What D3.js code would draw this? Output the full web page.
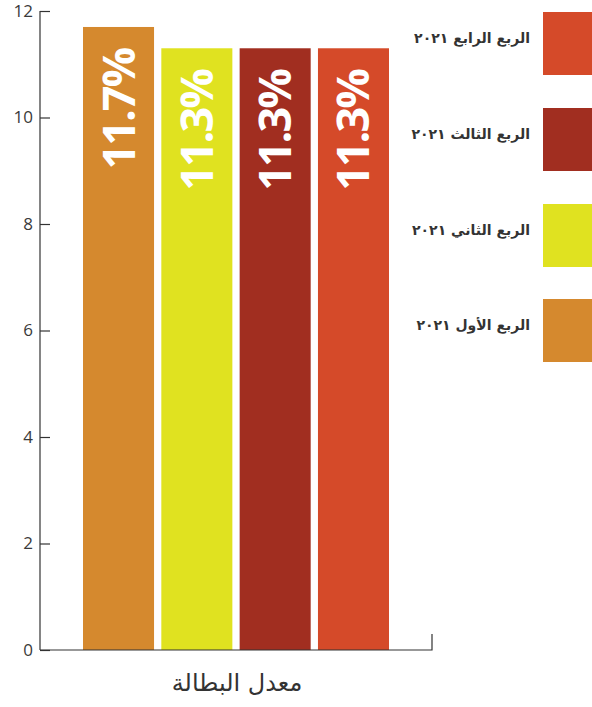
<!DOCTYPE html>
<html>
<head>
<meta charset="utf-8">
<script src="https://cdn.jsdelivr.net/npm/d3@7"></script>
<style>
  html, body { margin: 0; padding: 0; background: #fff; }
  svg { display: block; }
</style>
</head>
<body>
<svg id="chart" width="592" height="707"></svg>
<script>
const categories = ["الربع الأول ٢٠٢١", "الربع الثاني ٢٠٢١", "الربع الثالث ٢٠٢١", "الربع الرابع ٢٠٢١"];
const values = [11.7, 11.3, 11.3, 11.3];
const valueLabels = ["11.7%", "11.3%", "11.3%", "11.3%"];
const colors = ["#D5892E", "#E0E220", "#A12E20", "#D54A29"];
const yTicks = [0, 2, 4, 6, 8, 10, 12];
const axisTitle = "معدل البطالة";

const svg = d3.select("#chart");
const x0 = 40, x1 = 432, yTop = 11, yBottom = 650;

const y = d3.scaleLinear().domain([0, 12]).range([yBottom, yTop]);
const x = d3.scaleBand().domain(categories).range([83, 389]).paddingInner(0.093).paddingOuter(0);

// y axis
const yAxis = svg.append("g")
  .attr("transform", `translate(${x0},0)`)
  .call(d3.axisLeft(y).tickValues(yTicks).tickSize(-10).tickPadding(7).tickFormat(d3.format("d")));
yAxis.select(".domain").attr("stroke", "#333").attr("stroke-width", 1.2).attr("d", `M0,${yTop}V${yBottom}`);
yAxis.selectAll(".tick line").attr("stroke", "#333").attr("stroke-width", 1.2);
yAxis.selectAll(".tick text")
  .attr("fill", "#3a3a3a")
  .style("font-family", "'Open Sans', Lato, sans-serif")
  .style("font-size", "17px");

// bars
svg.append("g").selectAll("rect")
  .data(values)
  .join("rect")
  .attr("x", (d, i) => x(categories[i]))
  .attr("y", d => y(d))
  .attr("width", x.bandwidth())
  .attr("height", d => y(0) - y(d))
  .attr("fill", (d, i) => colors[i]);

// x axis baseline
svg.append("path")
  .attr("d", `M${x0},${yBottom}H${x1}V${yBottom - 16}`)
  .attr("fill", "none")
  .attr("stroke", "#333")
  .attr("stroke-width", 1.2);

// value labels rotated
svg.append("g").selectAll("text")
  .data(values)
  .join("text")
  .attr("transform", (d, i) => `translate(${x(categories[i]) + x.bandwidth() / 2 + 16},${y(d) + 22}) rotate(-90)`)
  .attr("text-anchor", "end")
  .attr("fill", "#fff")
  .style("font-family", "'Open Sans', Roboto, sans-serif")
  .style("font-weight", "700")
  .style("font-size", "45px")
  .style("letter-spacing", "-2px")
  .text((d, i) => valueLabels[i]);

// axis title
svg.append("text")
  .attr("x", 237)
  .attr("y", 691)
  .attr("text-anchor", "middle")
  .attr("fill", "#333")
  .style("font-family", "'DejaVu Sans', 'Noto Sans', sans-serif")
  .style("font-size", "24px")
  .text(axisTitle);

// legend (reverse order: Q4 at top)
const legendTop = [12, 108, 204, 299];
const legend = svg.append("g");
const order = [3, 2, 1, 0];
order.forEach((idx, k) => {
  legend.append("rect")
    .attr("x", 543)
    .attr("y", legendTop[k])
    .attr("width", 49)
    .attr("height", 63)
    .attr("fill", colors[idx]);
  legend.append("text")
    .attr("x", 530)
    .attr("y", legendTop[k] + 27)
    .attr("text-anchor", "end")
    .attr("dominant-baseline", "middle")
    .attr("fill", "#333")
    .style("font-family", "'DejaVu Sans', 'Noto Sans', sans-serif")
    .style("font-size", "14px")
    .style("font-weight", "600")
    .text(categories[idx]);
});
</script>
</body>
</html>
